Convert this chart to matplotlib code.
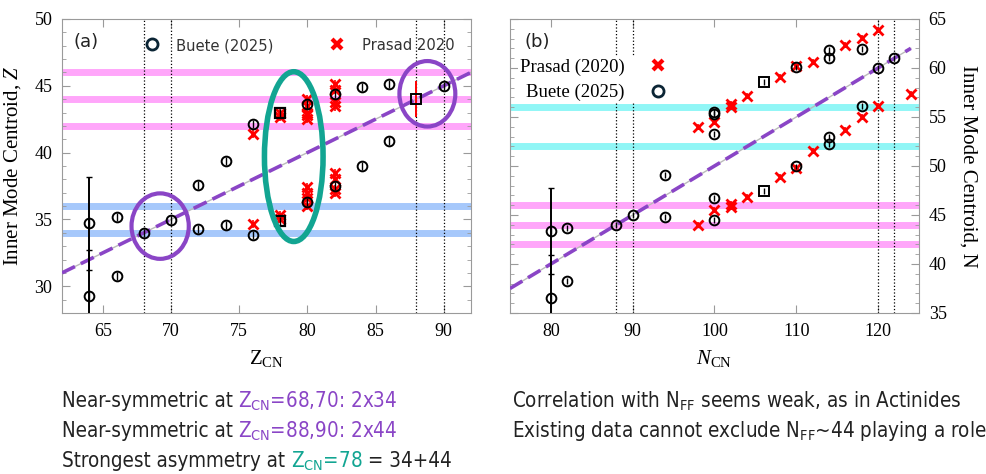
import matplotlib
matplotlib.use("Agg")
import matplotlib.pyplot as plt
from matplotlib.patches import Ellipse
from matplotlib.lines import Line2D

plt.rcParams['mathtext.fontset'] = 'custom'
plt.rcParams['mathtext.rm'] = 'Liberation Serif'
plt.rcParams['mathtext.it'] = 'Liberation Serif:italic'

# ---- data, panel (a): Z ----
bz_x = [64, 64, 66, 66, 68, 70, 72, 72, 74, 74, 76, 76, 80, 80, 82, 82, 84, 84, 86, 86, 90]
bz_y = [34.7, 29.25, 35.15, 30.8, 34.0, 34.95, 37.6, 34.3, 39.4, 34.55, 42.15, 33.8,
        43.6, 36.3, 44.4, 37.5, 44.9, 39.0, 45.1, 40.9, 45.0]
bz_sq_x = [78, 78]
bz_sq_y = [43.0, 34.9]
bz_big_x = [64, 64]
bz_big_y = [34.7, 29.25]
bz_big_err = [3.5, 3.5]

pz_x = [76, 76, 78, 78, 78, 78, 80, 80, 80, 80, 80, 80, 80, 80, 80,
        82, 82, 82, 82, 82, 82, 82, 82]
pz_y = [41.4, 34.65, 42.7, 43.0, 35.3, 35.0, 44.0, 43.5, 43.0, 42.8, 42.5, 37.4, 37.0, 36.6, 36.0,
        45.1, 44.7, 43.8, 43.45, 38.45, 38.05, 37.3, 36.95]
pz_sq_x = [88]
pz_sq_y = [44.0]
pz_sq_err = [1.33]

fit_zx = [62, 92]
fit_zy = [31, 46]

# ---- data, panel (b): N ----
bn_x = [80, 80, 82, 82, 88, 90, 94, 94, 100, 100, 100, 100, 100, 110, 110,
        114, 114, 114, 114, 118, 118, 120, 122]
bn_y = [43.35, 36.55, 43.65, 38.25, 44.0, 45.0, 49.1, 44.8, 55.5, 55.3, 53.3, 46.7, 44.5,
        60.05, 49.95, 61.85, 61.05, 53.0, 52.25, 61.9, 56.1, 60.0, 61.0]
bn_sq_x = [106, 106]
bn_sq_y = [58.55, 47.45]
bn_big_x = [80, 80]
bn_big_y = [43.35, 36.55]
bn_big_err = [4.4, 4.4]

pn_x = [98, 98, 100, 100, 102, 102, 102, 102, 104, 104, 108, 108, 110, 110,
        112, 112, 116, 116, 118, 118, 120, 120, 124]
pn_y = [53.95, 44.0, 54.45, 45.55, 56.3, 56.0, 46.1, 45.8, 57.1, 46.8, 59.05, 48.9, 60.25, 49.8,
        60.6, 51.5, 62.35, 53.65, 63.1, 55.0, 63.85, 56.1, 57.3]

fit_nx = [75, 124]
fit_ny = [37.5, 62.0]

PURPLE = '#8a45c6'
TEAL = '#12a592'
PINK = '#ffa6fa'
BLUE = '#a6c8fb'
CYAN = '#90f6f6'
GRAY = '#9a9a9a'
SERIF = 'Liberation Serif'
SANS = 'DejaVu Sans'

fig = plt.figure(figsize=(9.87, 4.74), dpi=100)
axa = fig.add_axes([0.0628, 0.3397, 0.4144, 0.6203])
axb = fig.add_axes([0.5167, 0.3397, 0.4144, 0.6203])


def style_axes(ax):
    for s in ax.spines.values():
        s.set_color(GRAY)
    ax.tick_params(which='both', direction='in', color=GRAY, top=True, right=True)
    ax.tick_params(which='major', length=6, labelsize=13, pad=7)
    ax.tick_params(which='minor', length=3)
    for lab in ax.get_xticklabels() + ax.get_yticklabels():
        lab.set_fontfamily(SERIF)


def small_bars(ax, xs, ys, marker, color, ms, mew):
    ax.errorbar(xs, ys, yerr=0.3, fmt=marker, ms=ms, mfc='none', mec=color, mew=mew,
                ecolor=color, elinewidth=1.0, capsize=0, zorder=5)


# ---------------- panel (a) ----------------
ax = axa
for y in [42, 44, 46]:
    ax.axhline(y, color=PINK, lw=5, zorder=1)
for y in [34, 36]:
    ax.axhline(y, color=BLUE, lw=5, zorder=1)
for x in [68, 70, 88, 90]:
    ax.axvline(x, color='k', ls=':', lw=0.9, zorder=2)

ax.plot(fit_zx, fit_zy, color='#bbbbbb', lw=1, zorder=3)
ax.plot(fit_zx, fit_zy, color=PURPLE, lw=2.6, ls=(0, (4, 1.8)), zorder=3)

ax.errorbar(pz_x, pz_y, yerr=0.3, fmt='x', ms=6.5, mec='red', mew=2, ecolor='red',
            elinewidth=1.2, capsize=0, zorder=4)
ax.errorbar(bz_big_x, bz_big_y, yerr=bz_big_err, fmt='none', ecolor='k', elinewidth=1.4,
            capsize=2, zorder=4)
small_bars(ax, bz_x, bz_y, 'o', 'k', 7, 1.4)
small_bars(ax, bz_sq_x, bz_sq_y, 's', 'k', 6.5, 1.6)
ax.errorbar(pz_sq_x, pz_sq_y, yerr=pz_sq_err, fmt='s', ms=6.5, mfc='none', mec='k', mew=1.4,
            ecolor='red', elinewidth=1.4, capsize=0, zorder=5)

ax.add_patch(Ellipse((69.2, 34.5), 4.2, 4.9, fill=False, ec=PURPLE, lw=3, zorder=6))
ax.add_patch(Ellipse((88.8, 44.4), 4.1, 4.9, fill=False, ec=PURPLE, lw=3, zorder=6))
ax.add_patch(Ellipse((79.0, 39.7), 4.3, 12.7, fill=False, ec=TEAL, lw=4, zorder=6))

ax.set_xlim(62, 92)
ax.set_ylim(28, 50)
ax.set_xticks([65, 70, 75, 80, 85, 90])
ax.set_yticks([30, 35, 40, 45, 50])
ax.set_yticks(range(28, 51), minor=True)
style_axes(ax)
ax.set_xlabel('Z$_\\mathrm{CN}$', fontfamily=SERIF, fontsize=15, labelpad=6)
ax.set_ylabel('Inner Mode Centroid, $Z$', fontfamily=SERIF, fontsize=15, labelpad=8)
ax.text(0.027, 0.92, '(a)', transform=ax.transAxes, fontfamily=SANS, fontsize=13,
        color='#222222', va='center')

h_b = Line2D([], [], ls='none', marker='o', ms=8, mfc='none', mec='#0b2535', mew=2)
h_p = Line2D([], [], ls='none', marker='x', ms=7, mec='red', mew=3)
leg = ax.legend([h_b, h_p], ['Buete (2025)', 'Prasad 2020'], ncol=2, loc='upper left',
                bbox_to_anchor=(0.163, 0.985), frameon=False, columnspacing=3.4,
                handlelength=1.0, handletextpad=1.0,
                prop={'family': SANS, 'size': 11.8, 'stretch': 'condensed'})
for t in leg.get_texts():
    t.set_color('#333333')

# ---------------- panel (b) ----------------
ax = axb
for y in [42, 44, 46]:
    ax.axhline(y, color=PINK, lw=5, zorder=1)
for y in [52, 56]:
    ax.axhline(y, color=CYAN, lw=5, zorder=1)
for x in [88, 90, 120, 122]:
    ax.axvline(x, color='k', ls=':', lw=0.9, zorder=2)

ax.plot(fit_nx, fit_ny, color='#bbbbbb', lw=1, zorder=3)
ax.plot(fit_nx, fit_ny, color=PURPLE, lw=2.6, ls=(0, (4, 1.8)), zorder=3)

ax.errorbar(pn_x, pn_y, yerr=0.3, fmt='x', ms=6.5, mec='red', mew=2, ecolor='red',
            elinewidth=1.2, capsize=0, zorder=4)
ax.errorbar(bn_big_x, bn_big_y, yerr=bn_big_err, fmt='none', ecolor='k', elinewidth=1.4,
            capsize=2, zorder=4)
small_bars(ax, bn_x, bn_y, 'o', 'k', 7, 1.4)
small_bars(ax, bn_sq_x, bn_sq_y, 's', 'k', 6.5, 1.4)

ax.set_xlim(75, 125)
ax.set_ylim(35, 65)
ax.set_xticks([80, 90, 100, 110, 120])
ax.set_yticks([35, 40, 45, 50, 55, 60, 65])
ax.set_yticks(range(35, 66), minor=True)
ax.yaxis.tick_right()
ax.yaxis.set_label_position('right')
style_axes(ax)
ax.tick_params(which='both', left=True)
ax.set_xlabel('$N_\\mathrm{CN}$', fontfamily=SERIF, fontsize=15, labelpad=6)
ax.set_ylabel('Inner Mode Centroid, N', fontfamily=SERIF, fontsize=15, rotation=270,
              labelpad=22)
ax.text(0.035, 0.92, '(b)', transform=ax.transAxes, fontfamily=SANS, fontsize=13,
        color='#222222', va='center')

h_p2 = Line2D([], [], ls='none', marker='x', ms=7, mec='red', mew=3)
h_b2 = Line2D([], [], ls='none', marker='o', ms=8, mfc='none', mec='#0b2535', mew=2)
leg2 = ax.legend([h_p2, h_b2], ['Prasad (2020)', 'Buete (2025)'], loc='upper left',
                 bbox_to_anchor=(0.01, 0.885), markerfirst=False, frameon=True,
                 fancybox=False, framealpha=1, edgecolor='none', facecolor='white',
                 borderpad=0.1, borderaxespad=0.2, handlelength=1.0, handletextpad=1.3,
                 labelspacing=0.45, prop={'family': SERIF, 'size': 13.5})
leg2.set_zorder(7)

# ---------------- notes below ----------------
renderer = fig.canvas.get_renderer()


def note_line(x, y, pieces, size=14.8):
    # pieces: list of (text, colour), drawn one after the other on a common baseline
    for s, c in pieces:
        t = fig.text(x, y, s, color=c, fontsize=size, fontfamily=SANS, va='baseline',
                     fontstretch='condensed')
        bb = t.get_window_extent(renderer=renderer)
        x += bb.width / fig.bbox.width


DARK = '#222222'
note_line(0.0625, 0.1414, [('Near-symmetric at ', DARK),
                           ('Z$_\\mathregular{CN}$=68,70: 2x34', PURPLE)])
note_line(0.0625, 0.078, [('Near-symmetric at ', DARK),
                          ('Z$_\\mathregular{CN}$=88,90: 2x44', PURPLE)])
note_line(0.0625, 0.0148, [('Strongest asymmetry at ', DARK),
                           ('Z$_\\mathregular{CN}$=78', TEAL), (' = 34+44', DARK)])
note_line(0.5185, 0.1414, [('Correlation with N$_\\mathregular{FF}$ seems weak, as in Actinides', DARK)])
note_line(0.5185, 0.078, [('Existing data cannot exclude N$_\\mathregular{FF}$~44 playing a role', DARK)])

fig.savefig('out.png', dpi=100)
